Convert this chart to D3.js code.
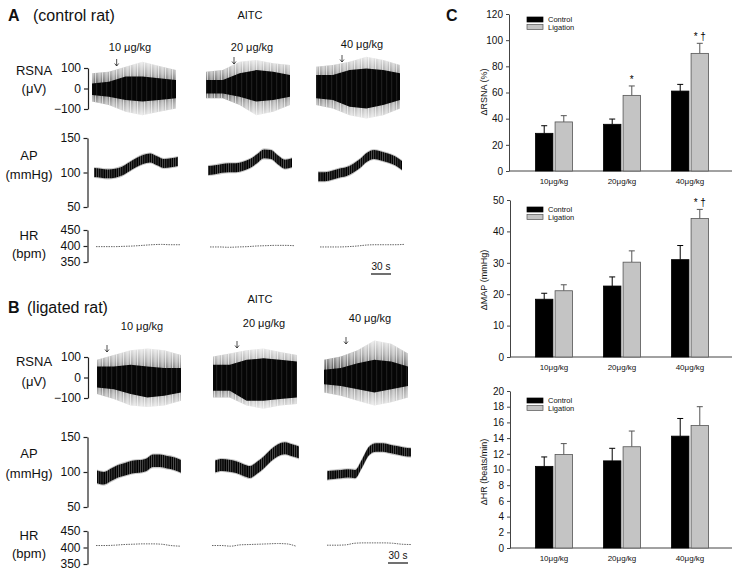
<!DOCTYPE html>
<html><head><meta charset="utf-8">
<script src="https://cdn.jsdelivr.net/npm/d3@7"></script>
<style>
body{margin:0;background:#fff}
svg{display:block}
text{font-family:"Liberation Sans",Arial,Helvetica,sans-serif;fill:#111}
</style>
</head><body>
<svg id="c" width="737" height="570"></svg>
<script>
// ---------------- DATA ----------------
const doseLabels = ["10 μg/kg", "20 μg/kg", "40 μg/kg"];
const barDoses = ["10μg/kg", "20μg/kg", "40μg/kg"];
const groups = ["Control", "Ligation"];

// Panel C: means and SEM
const rsnaControl = [28.8, 35.7, 61.1];
const rsnaControlSem = [5.8, 4.0, 5.1];
const rsnaLigation = [37.5, 57.8, 89.9];
const rsnaLigationSem = [4.8, 7.2, 7.7];
const rsnaMarks = ["", "*", "* †"];

const mapControl = [18.4, 22.6, 31.0];
const mapControlSem = [1.9, 2.9, 4.5];
const mapLigation = [21.1, 30.2, 44.1];
const mapLigationSem = [1.9, 3.6, 2.9];
const mapMarks = ["", "", "* †"];

const hrControl = [10.4, 11.1, 14.25];
const hrControlSem = [1.2, 1.6, 2.25];
const hrLigation = [11.9, 12.9, 15.6];
const hrLigationSem = [1.4, 2.0, 2.4];
const hrMarks = ["", "", ""];

const rsnaTicks = [0, 20, 40, 60, 80, 100, 120];
const mapTicks = [0, 10, 20, 30, 40, 50];
const hrTicks = [0, 2, 4, 6, 8, 10, 12, 14, 16, 18, 20];

// Panels A/B: trace ticks
const rsnaTraceTicks = [-100, 0, 100];
const apTraceTicks = [50, 100, 150];
const hrTraceTicks = [350, 400, 450];

// injection time (s from segment start)
const injA = [37, 42, 39];
const injB = [15, 36, 33];

// RSNA envelopes (μV), control rat (A)
const rsnaA_outerUp = [[74, 82, 106, 130, 110, 90], [82, 90, 130, 139, 123, 115], [106, 115, 130, 155, 139, 115]];
const rsnaA_outerLo = [[-64, -80, -113, -130, -113, -97], [-48, -48, -80, -130, -113, -80], [-80, -97, -130, -146, -130, -97]];
const rsnaA_coreUp = [[25, 33, 58, 58, 50, 41], [41, 41, 74, 90, 82, 66], [66, 66, 90, 98, 90, 74]];
const rsnaA_coreLo = [[-32, -40, -56, -64, -56, -48], [-24, -24, -40, -64, -56, -40], [-48, -56, -89, -97, -80, -56]];
// RSNA envelopes (μV), ligated rat (B)
const rsnaB_outerUp = [[86, 110, 133, 141, 133, 110], [102, 117, 133, 141, 125, 110], [86, 102, 133, 181, 165, 117]];
const rsnaB_outerLo = [[-81, -105, -137, -144, -137, -113], [-97, -97, -137, -152, -137, -129], [-73, -89, -113, -137, -121, -97]];
const rsnaB_coreUp = [[54, 54, 62, 54, 46, 46], [62, 62, 86, 94, 86, 78], [38, 46, 70, 86, 78, 54]];
const rsnaB_coreLo = [[-49, -57, -81, -97, -89, -73], [-65, -65, -113, -113, -105, -97], [-33, -41, -57, -73, -57, -41]];

// AP mean trend (mmHg) and pulse half-amplitude
const apA = [
  [100, 99, 98, 99, 102, 108, 114, 119, 121, 117, 113, 114, 116],
  [103, 104, 106, 107, 107, 109, 113, 120, 127, 126, 118, 112, 114],
  [94, 94, 96, 99, 101, 106, 113, 122, 126, 124, 121, 117, 110]
];
const apA_pulse = [6.5, 6.5, 6.5];
const apB = [
  [93, 91, 96, 101, 104, 107, 108, 110, 116, 116, 114, 112, 108],
  [108, 110, 109, 107, 103, 100, 106, 114, 124, 131, 134, 131, 128],
  [95, 96, 97, 98, 97, 112, 130, 135, 135, 133, 131, 129, 128]
];
const apB_pulse = [9, 8.5, 6];

// HR (bpm)
const hrA = [
  [398, 398, 398, 399, 400, 402, 404, 405, 404, 404],
  [397, 397, 396, 397, 398, 400, 401, 402, 402, 401],
  [397, 397, 397, 398, 400, 403, 404, 404, 404, 405]
];
const hrB = [
  [406, 406, 407, 409, 410, 411, 411, 410, 406, 404],
  [406, 406, 404, 408, 409, 410, 411, 412, 411, 404],
  [407, 407, 408, 413, 414, 414, 414, 413, 410, 409]
];
const segDuration = 126; // s per segment
const scaleBarSec = 30;

// ---------------- DRAW ----------------
const svg = d3.select("#c");
const defs = svg.append("defs");
// vertical fade for the spike envelope
const fade = defs.append("linearGradient").attr("id", "fade")
  .attr("x1", 0).attr("y1", 0).attr("x2", 0).attr("y2", 1);
[[0, "#e4e4e4"], [0.22, "#a8a8a8"], [0.5, "#3a3a3a"], [0.78, "#a8a8a8"], [1, "#e4e4e4"]]
  .forEach(([o, c]) => fade.append("stop").attr("offset", o).attr("stop-color", c));
// irregular vertical striation overlay
const st = defs.append("pattern").attr("id", "stria").attr("patternUnits", "userSpaceOnUse")
  .attr("width", 7).attr("height", 10);
[[0.6, 0.9, 0.85], [2.4, 0.6, 0.6], [3.9, 0.9, 0.8], [5.8, 0.5, 0.5]].forEach(([x, w, o]) =>
  st.append("rect").attr("x", x).attr("y", 0).attr("width", w).attr("height", 10)
    .attr("fill", "#fff").attr("opacity", o));
// core striation (dark grey lines on black)
const cs = defs.append("pattern").attr("id", "cstria").attr("patternUnits", "userSpaceOnUse")
  .attr("width", 5).attr("height", 10);
cs.append("rect").attr("width", 5).attr("height", 10).attr("fill", "#060606");
cs.append("rect").attr("x", 1.5).attr("width", 0.6).attr("height", 10).attr("fill", "#333");
// AP comb
const p2 = defs.append("pattern").attr("id", "apk").attr("patternUnits", "userSpaceOnUse")
  .attr("width", 2.2).attr("height", 6);
p2.append("rect").attr("width", 2.2).attr("height", 6).attr("fill", "#555");
p2.append("line").attr("x1", 0.8).attr("x2", 0.8).attr("y1", 0).attr("y2", 6)
  .attr("stroke", "#000").attr("stroke-width", 1.4);

const W = 84;
const tScale = d3.scaleLinear().domain([0, segDuration]).range([0, W]);

function txt(x, y, s, size, opts = {}) {
  const t = svg.append("text").attr("x", x).attr("y", y).attr("font-size", size).attr("fill", "#111").text(s);
  if (opts.anchor) t.attr("text-anchor", opts.anchor);
  if (opts.weight) t.attr("font-weight", opts.weight);
  if (opts.style) t.attr("font-style", opts.style);
  return t;
}

function traceAxis(scale, ticks, x) {
  const g = svg.append("g").attr("transform", `translate(${x},0)`)
    .call(d3.axisLeft(scale).tickValues(ticks).tickSize(4).tickSizeOuter(0).tickPadding(3));
  g.select(".domain").attr("stroke", "#222").attr("stroke-width", 1.2);
  g.selectAll(".tick line").attr("stroke", "#222").attr("stroke-width", 1.2);
  g.selectAll(".tick text").attr("font-size", 12).attr("fill", "#111")
    .attr("font-family", '"Liberation Sans",Arial,sans-serif');
}

function drawRow(cfg) {
  txt(8, cfg.titleY, cfg.letter, 16, { weight: "bold" });
  txt(cfg.titleX, cfg.titleY, cfg.title, 16);
  txt(cfg.aitcX, cfg.aitcY, "AITC", 11, { anchor: "middle" });
  doseLabels.forEach((d, i) => txt(cfg.doseX[i], cfg.doseY[i], d, 11, { anchor: "middle" }));

  const rsY = d3.scaleLinear().domain([-100, 100]).range(cfg.rsnaRange);
  const apY = d3.scaleLinear().domain([50, 150]).range(cfg.apRange);
  const hrY = d3.scaleLinear().domain([350, 450]).range(cfg.hrRange);

  traceAxis(rsY, rsnaTraceTicks, 88);
  traceAxis(apY, apTraceTicks, 87.5);
  traceAxis(hrY, hrTraceTicks, 87.5);

  txt(34, cfg.lab[0], "RSNA", 13, { anchor: "middle" });
  txt(34, cfg.lab[1], "(μV)", 13, { anchor: "middle" });
  txt(29, cfg.lab[2], "AP", 13, { anchor: "middle" });
  txt(29, cfg.lab[3], "(mmHg)", 13, { anchor: "middle" });
  txt(29, cfg.lab[4], "HR", 13, { anchor: "middle" });
  txt(29, cfg.lab[5], "(bpm)", 13, { anchor: "middle" });

  for (let i = 0; i < 3; i++) {
    // RSNA
    const n = cfg.oUp[i].length;
    const xr = d3.scaleLinear().domain([0, n - 1]).range([cfg.rsnaX[i], cfg.rsnaX[i] + W]);
    const outer = d3.area().x((d, j) => xr(j)).y0((d, j) => rsY(cfg.oLo[i][j])).y1(d => rsY(d))
      .curve(d3.curveLinear);
    svg.append("path").attr("d", outer(cfg.oUp[i])).attr("fill", "url(#fade)");
    svg.append("path").attr("d", outer(cfg.oUp[i])).attr("fill", "url(#stria)");
    const core = d3.area().x((d, j) => xr(j)).y0((d, j) => rsY(cfg.cLo[i][j])).y1(d => rsY(d))
      .curve(d3.curveLinear);
    svg.append("path").attr("d", core(cfg.cUp[i])).attr("fill", "url(#cstria)");

    // arrow
    const ax = cfg.rsnaX[i] + tScale(cfg.inj[i]);
    const ay = cfg.arrowY[i];
    svg.append("path").attr("d", `M${ax},${ay} V${ay + 7} M${ax - 2},${ay + 4.5} L${ax},${ay + 7} L${ax + 2},${ay + 4.5}`)
      .attr("stroke", "#222").attr("stroke-width", 0.8).attr("fill", "none");

    // AP
    const m = cfg.ap[i].length;
    const xa = d3.scaleLinear().domain([0, m - 1]).range([cfg.apX[i], cfg.apX[i] + W]);
    const pa = cfg.apPulse[i];
    const halo = d3.area().x((d, j) => xa(j)).y0(d => apY(d - pa - 1.5)).y1(d => apY(d + pa + 1.5))
      .curve(d3.curveMonotoneX);
    svg.append("path").attr("d", halo(cfg.ap[i])).attr("fill", "#c8c8c8");
    const band = d3.area().x((d, j) => xa(j)).y0(d => apY(d - pa)).y1(d => apY(d + pa))
      .curve(d3.curveMonotoneX);
    svg.append("path").attr("d", band(cfg.ap[i])).attr("fill", "url(#apk)");

    // HR
    const k = cfg.hr[i].length;
    const xh = d3.scaleLinear().domain([0, k - 1]).range([cfg.hrX[i], cfg.hrX[i] + W]);
    svg.append("path").attr("d", d3.line().x((d, j) => xh(j)).y(d => hrY(d)).curve(d3.curveMonotoneX)(cfg.hr[i]))
      .attr("fill", "none").attr("stroke", "#666").attr("stroke-width", 1).attr("stroke-dasharray", "1.5,1");
  }
  const sbx = cfg.sb[0];
  svg.append("line").attr("x1", sbx).attr("x2", sbx + tScale(scaleBarSec))
    .attr("y1", cfg.sb[1]).attr("y2", cfg.sb[1]).attr("stroke", "#111").attr("stroke-width", 1.2);
  txt(sbx + tScale(scaleBarSec) / 2, cfg.sb[1] - 4, scaleBarSec + " s", 10, { anchor: "middle" });
}

drawRow({
  letter: "A", title: "(control rat)", titleX: 33, titleY: 21,
  aitcX: 250, aitcY: 19, doseX: [130, 252, 362], doseY: [51, 51, 48],
  arrowY: [59, 57, 55], inj: injA,
  rsnaRange: [109, 68], apRange: [207, 138], hrRange: [262, 230],
  lab: [75, 93, 160, 179, 240, 258],
  rsnaX: [92, 206, 316], apX: [94, 208, 318], hrX: [96, 210, 320],
  oUp: rsnaA_outerUp, oLo: rsnaA_outerLo, cUp: rsnaA_coreUp, cLo: rsnaA_coreLo,
  ap: apA, apPulse: apA_pulse, hr: hrA, sb: [371, 274]
});
drawRow({
  letter: "B", title: "(ligated rat)", titleX: 27, titleY: 313,
  aitcX: 260, aitcY: 303, doseX: [142, 264, 370], doseY: [330, 327, 322],
  arrowY: [345, 341, 337], inj: injB,
  rsnaRange: [398, 357], apRange: [507, 437], hrRange: [564, 531],
  lab: [366, 386, 458, 478, 540, 558],
  rsnaX: [97, 213, 324], apX: [97, 215, 327], hrX: [96, 212, 327],
  oUp: rsnaB_outerUp, oLo: rsnaB_outerLo, cUp: rsnaB_coreUp, cLo: rsnaB_coreLo,
  ap: apB, apPulse: apB_pulse, hr: hrB, sb: [388, 563]
});

// ---------------- Panel C ----------------
txt(446, 21, "C", 16, { weight: "bold" });

const xGroup = d3.scalePoint().domain(barDoses).range([554, 690]);
const xSub = d3.scaleBand().domain(groups).range([-18.5, 18.5]).paddingInner(0.11);
const fills = { Control: "#000", Ligation: "#c4c4c4" };
const strokes = { Control: "#000", Ligation: "#555" };

function barChart(cfg) {
  const y = d3.scaleLinear().domain([0, cfg.max]).range(cfg.yr);
  const ax = svg.append("g").attr("transform", `translate(${cfg.ax},0)`)
    .call(d3.axisLeft(y).tickValues(cfg.ticks).tickSize(3).tickPadding(3).tickSizeOuter(0));
  ax.select(".domain").attr("stroke", "#444");
  ax.selectAll(".tick line").attr("stroke", "#444");
  ax.selectAll(".tick text").attr("font-size", 10).attr("fill", "#333")
    .attr("font-family", '"Liberation Sans",Arial,sans-serif');
  svg.append("line").attr("x1", cfg.ax).attr("x2", 732).attr("y1", y(0)).attr("y2", y(0))
    .attr("stroke", "#444");
  barDoses.forEach(d => txt(xGroup(d), y(0) + 13, d, 8, { anchor: "middle" }).attr("fill", "#333"));

  const series = [
    { g: "Control", v: cfg.c, e: cfg.ce },
    { g: "Ligation", v: cfg.l, e: cfg.le }
  ];
  series.forEach(s => {
    barDoses.forEach((d, i) => {
      const x0 = xGroup(d) + xSub(s.g);
      const bw = xSub.bandwidth();
      const cx = x0 + bw / 2;
      svg.append("line").attr("x1", cx).attr("x2", cx).attr("y1", y(s.v[i])).attr("y2", y(s.v[i] + s.e[i]))
        .attr("stroke", strokes[s.g]).attr("stroke-width", 1);
      svg.append("line").attr("x1", cx - 3).attr("x2", cx + 3)
        .attr("y1", y(s.v[i] + s.e[i])).attr("y2", y(s.v[i] + s.e[i]))
        .attr("stroke", strokes[s.g]).attr("stroke-width", 1);
      svg.append("rect").attr("x", x0).attr("width", bw)
        .attr("y", y(s.v[i])).attr("height", y(0) - y(s.v[i]))
        .attr("fill", fills[s.g]).attr("stroke", strokes[s.g]).attr("stroke-width", 0.8);
      if (s.g === "Ligation" && cfg.marks[i]) {
        txt(cx, y(s.v[i] + s.e[i]) - 3, cfg.marks[i], 10, { anchor: "middle" })
          .attr("font-family", '"DejaVu Sans",sans-serif').attr("fill", "#000").style("fill", "#000");
      }
    });
  });
  groups.forEach((g, i) => {
    const ly = cfg.leg + i * 7.5;
    svg.append("rect").attr("x", 527).attr("y", ly).attr("width", 16).attr("height", 5)
      .attr("fill", fills[g]).attr("stroke", strokes[g]).attr("stroke-width", 0.7);
    txt(548, ly + 5, g, 7.5).attr("fill", "#222");
  });
  svg.append("text").attr("transform", `translate(${cfg.labX},${cfg.labY}) rotate(-90)`)
    .attr("text-anchor", "middle").attr("font-size", 9).attr("fill", "#333").text(cfg.label);
}

barChart({ max: 120, yr: [171, 14], ax: 509, ticks: rsnaTicks, c: rsnaControl, ce: rsnaControlSem,
  l: rsnaLigation, le: rsnaLigationSem, marks: rsnaMarks, leg: 17, label: "ΔRSNA (%)", labX: 487, labY: 92 });
barChart({ max: 50, yr: [357, 200], ax: 510, ticks: mapTicks, c: mapControl, ce: mapControlSem,
  l: mapLigation, le: mapLigationSem, marks: mapMarks, leg: 207, label: "ΔMAP (mmHg)", labX: 487, labY: 280 });
barChart({ max: 20, yr: [548, 391], ax: 510, ticks: hrTicks, c: hrControl, ce: hrControlSem,
  l: hrLigation, le: hrLigationSem, marks: hrMarks, leg: 398, label: "ΔHR (beats/min)", labX: 487, labY: 472 });
</script>
</body></html>
